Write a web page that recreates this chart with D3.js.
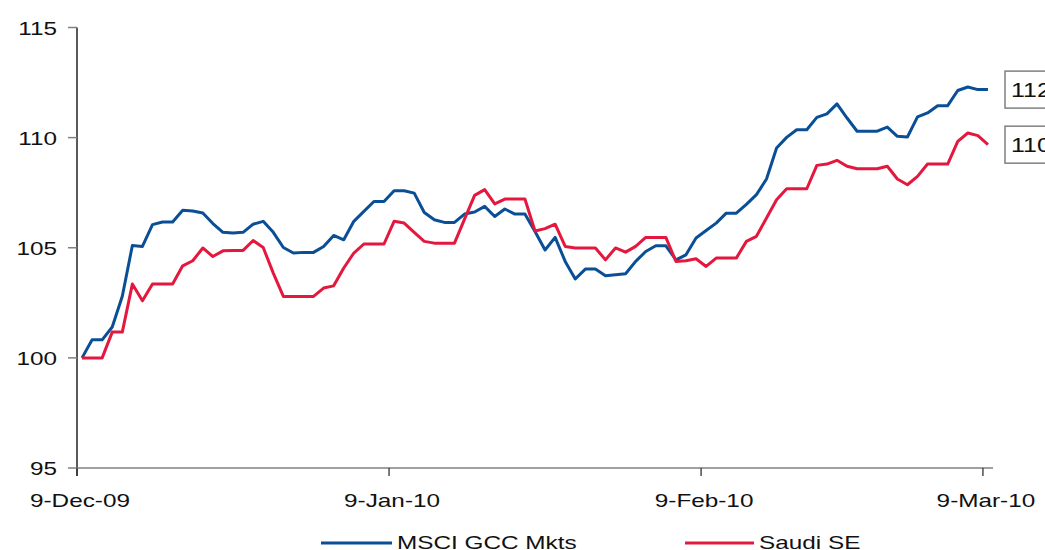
<!DOCTYPE html>
<html>
<head>
<meta charset="utf-8">
<script src="https://cdn.jsdelivr.net/npm/d3@7"></script>
<style>
  html, body { margin: 0; padding: 0; background: #fff; }
  svg { display: block; }
  text { font-family: "Liberation Sans", Arial, sans-serif; fill: #111; }
</style>
</head>
<body>
<svg id="chart" width="1045" height="550"></svg>
<script>
// ---- data ----
const seriesNames = ["MSCI GCC Mkts", "Saudi SE"];
const seriesColors = ["#0a4f96", "#e4183e"];
const startDate = new Date(2009, 11, 9);
const msci = [100.0, 100.82, 100.82, 101.4, 102.8, 105.1, 105.06, 106.05, 106.17, 106.17,
  106.7, 106.67, 106.58, 106.1, 105.7, 105.67, 105.7, 106.07, 106.2, 105.7,
  105.01, 104.76, 104.79, 104.79, 105.06, 105.56, 105.36, 106.2, 106.65, 107.1,
  107.1, 107.59, 107.59, 107.48, 106.6, 106.27, 106.15, 106.15, 106.53, 106.62,
  106.88, 106.42, 106.76, 106.53, 106.53, 105.74, 104.9, 105.47, 104.38, 103.58,
  104.03, 104.03, 103.73, 103.77, 103.82, 104.38, 104.83, 105.09, 105.09, 104.45,
  104.68, 105.44, 105.78, 106.12, 106.57, 106.57, 106.97, 107.41, 108.12, 109.53,
  110.01, 110.36, 110.36, 110.92, 111.08, 111.53, 110.89, 110.29, 110.29, 110.29,
  110.48, 110.06, 110.03, 110.94, 111.12, 111.45, 111.45, 112.14, 112.3, 112.18, 112.18];
const saudi = [100.0, 100.0, 100.0, 101.17, 101.17, 103.35, 102.59, 103.35, 103.35, 103.35,
  104.18, 104.41, 104.99, 104.6, 104.86, 104.88, 104.88, 105.33, 105.01, 103.85,
  102.79, 102.79, 102.79, 102.79, 103.17, 103.27, 104.08, 104.76, 105.17, 105.17,
  105.17, 106.2, 106.12, 105.7, 105.29, 105.21, 105.21, 105.21, 106.3, 107.38,
  107.64, 106.99, 107.21, 107.21, 107.21, 105.76, 105.87, 106.07, 105.06, 104.99,
  104.99, 104.99, 104.45, 104.99, 104.8, 105.06, 105.47, 105.47, 105.47, 104.38,
  104.41, 104.5, 104.15, 104.53, 104.53, 104.53, 105.29, 105.52, 106.35, 107.18,
  107.68, 107.68, 107.68, 108.74, 108.8, 108.97, 108.7, 108.59, 108.59, 108.59,
  108.7, 108.12, 107.86, 108.24, 108.8, 108.8, 108.8, 109.83, 110.21, 110.09, 109.68];
const yTicks = [95, 100, 105, 110, 115];
const xTickDates = [new Date(2009, 11, 9), new Date(2010, 0, 9), new Date(2010, 1, 9), new Date(2010, 2, 9)];
const xTickLabels = ["9-Dec-09", "9-Jan-10", "9-Feb-10", "9-Mar-10"];
const endLabels = ["112", "110"];

// ---- layout ----
const svg = d3.select("#chart");
const plotL = 77, plotR = 993, plotT = 27.5, plotB = 468;
const SX = 1.28; // horizontal text stretch
const FS = 19;

const days = d3.timeDay.range(startDate, d3.timeDay.offset(startDate, msci.length));
const pointDates = days.map(d => d3.timeHour.offset(d, 12));

const x = d3.scaleTime()
  .domain([startDate, d3.timeDay.offset(startDate, msci.length)])
  .range([plotL, plotR]);
const y = d3.scaleLinear().domain([95, 115]).range([plotB, plotT]);

function stretchedText(g, tx, ty, str, anchor, size) {
  return g.append("text")
    .attr("transform", `translate(${tx},${ty}) scale(${SX},1)`)
    .attr("text-anchor", anchor)
    .style("font-size", (size || FS) + "px")
    .text(str);
}

// y axis
const yAxis = svg.append("g");
yAxis.append("line").attr("x1", plotL).attr("x2", plotL).attr("y1", y(115)).attr("y2", plotB + 8)
  .attr("stroke", "#000").attr("stroke-width", 1.3);
yTicks.forEach(t => {
  yAxis.append("line").attr("x1", plotL - 9).attr("x2", plotL).attr("y1", y(t)).attr("y2", y(t))
    .attr("stroke", "#808080").attr("stroke-width", 1.5);
  stretchedText(yAxis, 57, y(t) + 7, String(t), "end");
});

// x axis
const xAxis = svg.append("g");
xAxis.append("line").attr("x1", plotL).attr("x2", plotR).attr("y1", plotB).attr("y2", plotB)
  .attr("stroke", "#808080").attr("stroke-width", 1.5);
xTickDates.forEach((d, i) => {
  const px = x(d);
  xAxis.append("line").attr("x1", px).attr("x2", px).attr("y1", plotB).attr("y2", plotB + 8)
    .attr("stroke", "#333").attr("stroke-width", 1.3);
  stretchedText(xAxis, px + 3, 507, xTickLabels[i], "middle");
});

// lines
const series = [msci, saudi];
const line = d3.line().x((d, i) => x(pointDates[i])).y(d => y(d));
series.forEach((vals, si) => {
  svg.append("path").datum(vals)
    .attr("fill", "none")
    .attr("stroke", seriesColors[si])
    .attr("stroke-width", 3)
    .attr("stroke-linejoin", "round")
    .attr("d", line);
});

// end labels
series.forEach((vals, si) => {
  const cy = y(vals[vals.length - 1]);
  svg.append("rect").attr("x", 1005).attr("y", cy - 18.5).attr("width", 80).attr("height", 37)
    .attr("fill", "#fff").attr("stroke", "#808080").attr("stroke-width", 1.5);
  stretchedText(svg, 1011, cy + 7, endLabels[si], "start", 19.5);
});

// legend
const legendPos = [{x1: 321, x2: 392, tx: 397}, {x1: 685, x2: 754, tx: 759}];
seriesNames.forEach((name, si) => {
  const p = legendPos[si];
  svg.append("line").attr("x1", p.x1).attr("x2", p.x2).attr("y1", 543).attr("y2", 543)
    .attr("stroke", seriesColors[si]).attr("stroke-width", 3);
  stretchedText(svg, p.tx, 549, name, "start", 19);
});
</script>
</body>
</html>
